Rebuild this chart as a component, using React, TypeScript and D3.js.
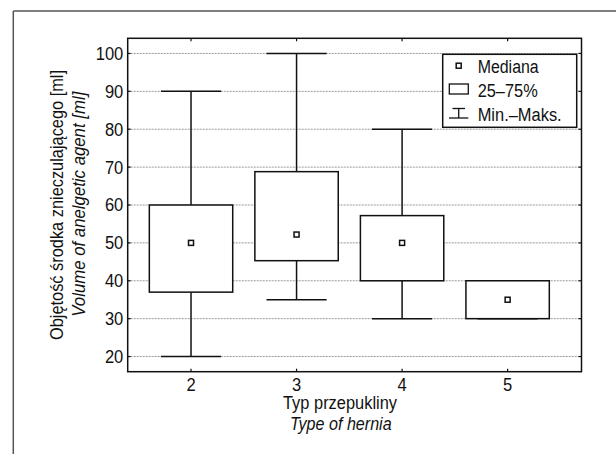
import React from 'react';
import * as d3 from 'd3';

const categories = [2, 3, 4, 5];
const mins = [20, 35, 30, 30];
const q1s = [37, 45.3, 40, 30];
const medians = [50, 52.2, 50, 35];
const q3s = [60, 68.8, 57.2, 40];
const maxs = [90, 100, 80, 40];
const yTicks = [20, 30, 40, 50, 60, 70, 80, 90, 100];
const legendLabels = ['Mediana', '25–75%', 'Min.–Maks.'];

const W = 616, H = 454;
const plot = { left: 127.7, right: 581.5, top: 38.3, bottom: 371.7 };
const FONT = '"Liberation Sans", Arial, sans-serif';
const FS = 18;
const DIGIT_W = 9.2;

export default function App() {
  const x = d3.scaleLinear().domain([1.4, 5.7]).range([plot.left, plot.right]);
  const y = d3.scaleLinear().domain([16, 104]).range([plot.bottom, plot.top]);
  const boxHalf = x(2.395) - x(2);
  const capHalf = x(2.285) - x(2);
  const stroke = '#111';
  const sw = 1.5;

  const lg = { x0: 442.7, x1: 576.7, y0: 54.3, y1: 127.3 };

  return (
    <svg width={W} height={H} style={{ position: 'absolute', left: 0, top: 0 }} fontFamily={FONT}>
      <rect x={0} y={0} width={W} height={H} fill="#fff" />
      {/* outer frame */}
      <line x1={13.3} y1={11} x2={W} y2={11} stroke="#555" strokeWidth={1.5} />
      <line x1={13.3} y1={11} x2={13.3} y2={H} stroke="#555" strokeWidth={1.5} />

      {/* gridlines */}
      {yTicks.map((t) => (
        <line key={'g' + t} x1={plot.left} x2={plot.right} y1={y(t)} y2={y(t)} stroke="#999" strokeWidth={1} strokeDasharray="2,1" />
      ))}

      {/* ticks */}
      {yTicks.map((t) => (
        <g key={'t' + t}>
          <line x1={plot.left} x2={plot.left + 3} y1={y(t)} y2={y(t)} stroke={stroke} strokeWidth={1.2} />
          <line x1={plot.right} x2={plot.right - 3} y1={y(t)} y2={y(t)} stroke={stroke} strokeWidth={1.2} />
          <text x={123.3} y={y(t)} dy="0.36em" textAnchor="end" fontSize={FS} fill="#111"
            textLength={String(t).length * DIGIT_W} lengthAdjust="spacingAndGlyphs">{t}</text>
        </g>
      ))}
      {categories.map((c) => (
        <g key={'c' + c}>
          <line x1={x(c)} x2={x(c)} y1={plot.top} y2={plot.top + 3} stroke={stroke} strokeWidth={1.2} />
          <line x1={x(c)} x2={x(c)} y1={plot.bottom} y2={plot.bottom - 3} stroke={stroke} strokeWidth={1.2} />
          <text x={x(c)} y={391} textAnchor="middle" fontSize={FS} fill="#111"
            textLength={DIGIT_W} lengthAdjust="spacingAndGlyphs">{c}</text>
        </g>
      ))}

      {/* boxes */}
      {categories.map((c, i) => {
        const cx = x(c);
        return (
          <g key={'b' + c} stroke={stroke} strokeWidth={sw} fill="none">
            <line x1={cx} x2={cx} y1={y(maxs[i])} y2={y(q3s[i])} />
            <line x1={cx} x2={cx} y1={y(q1s[i])} y2={y(mins[i])} />
            <line x1={cx - capHalf} x2={cx + capHalf} y1={y(maxs[i])} y2={y(maxs[i])} />
            <line x1={cx - capHalf} x2={cx + capHalf} y1={y(mins[i])} y2={y(mins[i])} />
            <rect x={cx - boxHalf} y={y(q3s[i])} width={2 * boxHalf} height={y(q1s[i]) - y(q3s[i])} fill="#fff" />
            <rect x={cx - 2.5} y={y(medians[i]) - 2.5} width={5} height={5} fill="#fff" />
          </g>
        );
      })}

      {/* plot border */}
      <rect x={plot.left} y={plot.top} width={plot.right - plot.left} height={plot.bottom - plot.top} fill="none" stroke={stroke} strokeWidth={1.5} />

      {/* legend */}
      <rect x={lg.x0} y={lg.y0} width={lg.x1 - lg.x0} height={lg.y1 - lg.y0} fill="#fff" stroke={stroke} strokeWidth={1.5} />
      <rect x={458.7 - 2.5} y={65.7 - 2.5} width={5} height={5} fill="#fff" stroke={stroke} strokeWidth={1.5} />
      <rect x={449.3} y={84} width={19} height={10} fill="#fff" stroke={stroke} strokeWidth={1.3} />
      <g stroke={stroke} strokeWidth={1.3}>
        <line x1={452.5} x2={465} y1={108.5} y2={108.5} />
        <line x1={458.7} x2={458.7} y1={108.5} y2={118} />
        <line x1={449} x2={468.3} y1={118} y2={118} />
      </g>
      <text x={477.7} y={72.7} fontSize={FS} fill="#111" textLength={61} lengthAdjust="spacingAndGlyphs">{legendLabels[0]}</text>
      <text x={477.7} y={96.7} fontSize={FS} fill="#111" textLength={60} lengthAdjust="spacingAndGlyphs">{legendLabels[1]}</text>
      <text x={477.7} y={120.7} fontSize={FS} fill="#111" textLength={84} lengthAdjust="spacingAndGlyphs">{legendLabels[2]}</text>

      {/* axis titles */}
      <text x={340} y={408.7} textAnchor="middle" fontSize={FS} fill="#111" textLength={114} lengthAdjust="spacingAndGlyphs">Typ przepukliny</text>
      <text x={340.8} y={429.7} textAnchor="middle" fontSize={FS} fontStyle="italic" fill="#111" textLength={101.7} lengthAdjust="spacingAndGlyphs">Type of hernia</text>
      <text transform={`translate(63.3,205) rotate(-90)`} textAnchor="middle" fontSize={FS} fill="#111" textLength={270} lengthAdjust="spacingAndGlyphs">Objętość środka znieczulającego [ml]</text>
      <text transform={`translate(85.3,204.2) rotate(-90)`} textAnchor="middle" fontSize={FS} fontStyle="italic" fill="#111" textLength={225} lengthAdjust="spacingAndGlyphs">Volume of anelgetic agent [ml]</text>
    </svg>
  );
}
